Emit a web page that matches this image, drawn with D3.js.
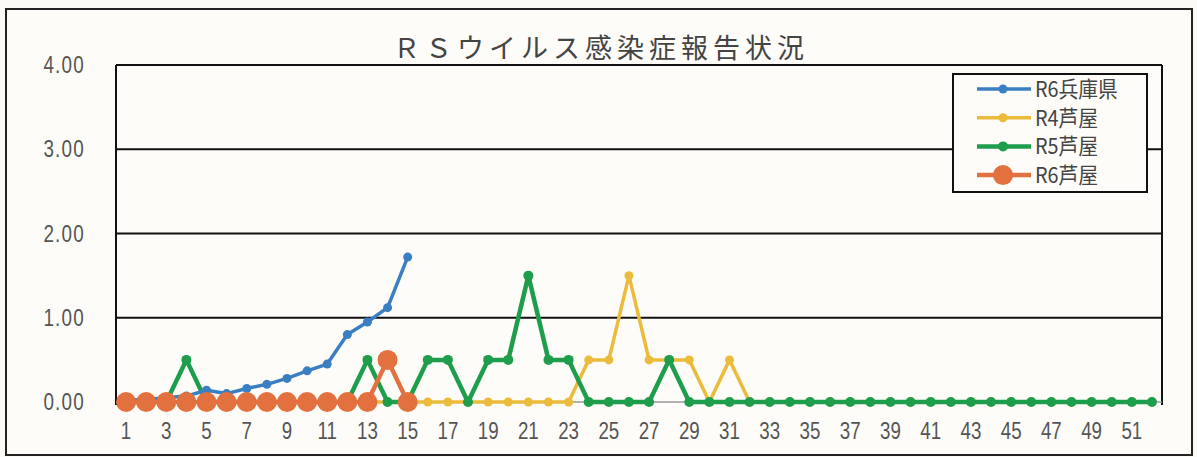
<!DOCTYPE html>
<html>
<head>
<meta charset="utf-8">
<script src="https://cdn.jsdelivr.net/npm/d3@7"></script>
<style>
  body { margin: 0; background: #fbfaf4; }
  svg { display: block; }
</style>
</head>
<body>
<script>
// weeks 1..52
var weeks = d3.range(1, 53);
var yTicks = [0, 1, 2, 3, 4];

var hyogoR6 = [0.02, 0.03, 0.05, 0.07, 0.14, 0.10, 0.16, 0.21, 0.28, 0.37, 0.45, 0.80, 0.95, 1.12, 1.72];
var ashiyaR4 = [0, 0, 0, 0, 0, 0, 0, 0, 0, 0, 0, 0, 0, 0, 0, 0, 0, 0, 0, 0, 0, 0, 0, 0.5, 0.5, 1.5, 0.5, 0.5, 0.5, 0, 0.5, 0,
                0, 0, 0, 0, 0, 0, 0, 0, 0, 0, 0, 0, 0, 0, 0, 0, 0, 0, 0, 0];
var ashiyaR5 = [0, 0, 0, 0.5, 0, 0, 0, 0, 0, 0, 0, 0, 0.5, 0, 0, 0.5, 0.5, 0, 0.5, 0.5, 1.5, 0.5, 0.5, 0, 0, 0, 0, 0.5, 0,
                0, 0, 0, 0, 0, 0, 0, 0, 0, 0, 0, 0, 0, 0, 0, 0, 0, 0, 0, 0, 0, 0, 0];
var ashiyaR6 = [0, 0, 0, 0, 0, 0, 0, 0, 0, 0, 0, 0, 0, 0.5, 0];

var series = [
  {name: "R6兵庫県", values: hyogoR6, color: "#3a7fc1", width: 3.5, r: 4.5},
  {name: "R4芦屋", values: ashiyaR4, color: "#ebbb3c", width: 3.5, r: 4.5},
  {name: "R5芦屋", values: ashiyaR5, color: "#1e9e4c", width: 4.5, r: 5},
  {name: "R6芦屋", values: ashiyaR6, color: "#e2713f", width: 4.5, r: 10}
];

var W = 1197, H = 457;
var plotL = 116, plotR = 1162, plotT = 65, plotB = 402;

var svg = d3.select("body").append("svg").attr("width", W).attr("height", H);

// outer frame
svg.append("rect").attr("x", 6).attr("y", 9).attr("width", 1186).attr("height", 446)
  .attr("fill", "#fdfcf8").attr("stroke", "#222").attr("stroke-width", 2);

var x = d3.scaleBand().domain(weeks).range([plotL, plotR]);
var y = d3.scaleLinear().domain([0, 4]).range([plotB, plotT]);
function cx(i) { return x(weeks[i]) + x.bandwidth() / 2; }

// title
svg.append("text").attr("x", 601).attr("y", 58).attr("text-anchor", "middle")
  .attr("font-family", "'Noto Sans CJK JP'").attr("font-size", 27).attr("letter-spacing", 5)
  .attr("fill", "#444").text("ＲＳウイルス感染症報告状況");

// gridlines
svg.append("g").selectAll("line").data(yTicks.filter(function (d) { return d > 0; })).join("line")
  .attr("x1", plotL).attr("x2", plotR).attr("y1", function (d) { return y(d); }).attr("y2", function (d) { return y(d); })
  .attr("stroke", "#111").attr("stroke-width", 2);

// axis lines
svg.append("line").attr("x1", plotL).attr("x2", plotL).attr("y1", plotT).attr("y2", plotB + 3)
  .attr("stroke", "#111").attr("stroke-width", 2);
svg.append("line").attr("x1", plotR).attr("x2", plotR).attr("y1", plotT).attr("y2", plotB + 3)
  .attr("stroke", "#111").attr("stroke-width", 2);
svg.append("line").attr("x1", plotL).attr("x2", plotR).attr("y1", plotB).attr("y2", plotB)
  .attr("stroke", "#999").attr("stroke-width", 1.5);

// y labels
svg.append("g").selectAll("text").data(yTicks).join("text")
  .attr("transform", function (d) { return "translate(85," + (y(d) + 8) + ") scale(0.82,1)"; })
  .attr("text-anchor", "end")
  .attr("font-family", "'Liberation Sans'").attr("font-size", 23).attr("letter-spacing", 1.5)
  .attr("fill", "#555").text(function (d) { return d.toFixed(2); });

// x labels, every other week
svg.append("g").selectAll("text").data(weeks.filter(function (d) { return d % 2 === 1; })).join("text")
  .attr("transform", function (d) { return "translate(" + (x(d) + x.bandwidth() / 2) + ",439) scale(0.78,1)"; })
  .attr("text-anchor", "middle")
  .attr("font-family", "'Liberation Sans'").attr("font-size", 24)
  .attr("fill", "#555").text(function (d) { return d; });

var line = d3.line().x(function (d, i) { return cx(i); }).y(function (d) { return y(d); });

// draw order: R4, R5, R6 hyogo, R6 ashiya
[1, 2, 0, 3].forEach(function (k) {
  var s = series[k];
  var g = svg.append("g");
  g.append("path").attr("d", line(s.values)).attr("fill", "none")
    .attr("stroke", s.color).attr("stroke-width", s.width).attr("stroke-linejoin", "round");
  g.selectAll("circle").data(s.values).join("circle")
    .attr("cx", function (d, i) { return cx(i); }).attr("cy", function (d) { return y(d); })
    .attr("r", s.r).attr("fill", s.color);
});

// legend
var lg = svg.append("g");
lg.append("rect").attr("x", 953).attr("y", 74).attr("width", 194).attr("height", 118)
  .attr("fill", "#fdfcf8").attr("stroke", "#111").attr("stroke-width", 2);
series.forEach(function (s, i) {
  var ly = 89 + i * 28.7;
  lg.append("line").attr("x1", 977).attr("x2", 1031).attr("y1", ly).attr("y2", ly)
    .attr("stroke", s.color).attr("stroke-width", s.width);
  lg.append("circle").attr("cx", 1003).attr("cy", ly).attr("r", s.r).attr("fill", s.color);
  lg.append("text").attr("transform", "translate(1035," + (ly + 8) + ") scale(0.9,1)")
    .attr("font-family", "'Noto Sans CJK JP'")
    .attr("font-size", 22).attr("fill", "#444").text(s.name);
});
</script>
</body>
</html>
